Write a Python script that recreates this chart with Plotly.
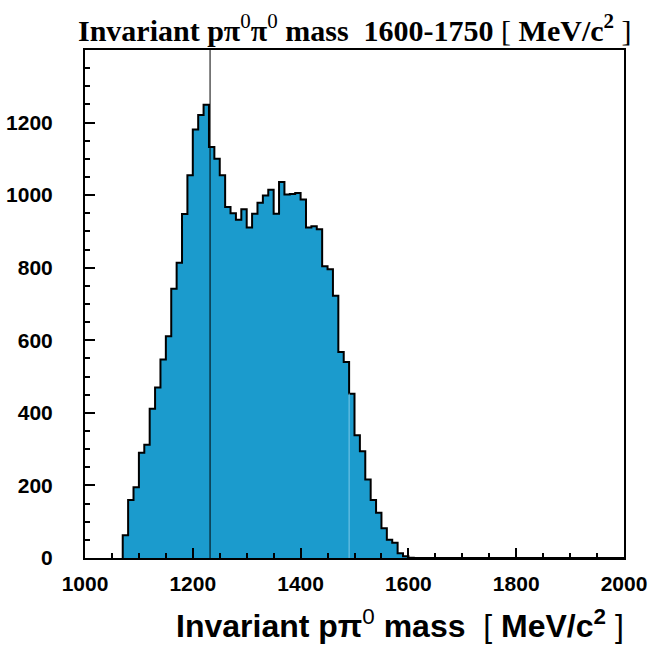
import plotly.graph_objects as go

# bin left edges (MeV/c^2), 10 MeV bins
bin_lo = list(range(1070, 1610, 10))
counts = [63, 160, 195, 290, 312, 411, 470, 547, 611, 742,
          814, 948, 1055, 1181, 1221, 1249, 1133, 1100, 1055, 967,
          950, 932, 961, 911, 949, 979, 999, 1015, 949, 1036,
          1002, 1003, 1006, 988, 911, 914, 906, 804, 796, 723,
          568, 540, 453, 338, 294, 216, 160, 125, 82, 50,
          42, 13, 5, 1]
bin_w = 10
delta_mass = 1232
light_edge = 1490
x_ticks = [1000, 1200, 1400, 1600, 1800, 2000]
y_ticks = [0, 200, 400, 600, 800, 1000, 1200]

fill_col = "#1b9bcd"

fig = go.Figure()
fig.add_trace(go.Bar(
    x=[b + bin_w / 2 for b in bin_lo], y=counts, width=bin_w,
    marker=dict(color=fill_col, line=dict(width=0)), hoverinfo="skip",
))
# outline
ox = [bin_lo[0]] + bin_lo + [bin_lo[-1] + bin_w, 2000]
oy = [0] + counts + [0, 0]
fig.add_trace(go.Scatter(x=ox, y=oy, mode="lines", line=dict(color="black", width=2, shape="hv"),
                         hoverinfo="skip"))

# light edge line
idx = bin_lo.index(light_edge)
fig.add_trace(go.Scatter(x=[light_edge, light_edge], y=[0, counts[idx]], mode="lines",
                         line=dict(color="#7cc8e8", width=1), hoverinfo="skip"))
# Delta line
fig.add_trace(go.Scatter(x=[delta_mass, delta_mass], y=[0, 1400], mode="lines",
                         line=dict(color="black", width=1), hoverinfo="skip"))

tickfont = dict(family="Liberation Sans", size=21, color="black")
fig.update_layout(
    width=651, height=648,
    margin=dict(l=85, r=27, t=50, b=90),
    paper_bgcolor="white", plot_bgcolor="white",
    showlegend=False, bargap=0,
    xaxis=dict(range=[1000, 2000], tickvals=x_ticks, ticktext=[f"<b>{v}</b>" for v in x_ticks],
               ticks="inside", ticklen=10, tickwidth=1.5, tickcolor="black",
               minor=dict(dtick=50, tick0=1000, ticks="inside", ticklen=5, tickwidth=1.5, tickcolor="black"),
               showline=True, linecolor="black", linewidth=2, mirror=True, automargin=False,
               showgrid=False, zeroline=False, tickfont=tickfont, ticklabelstandoff=6),
    yaxis=dict(range=[0, 1400], tickvals=y_ticks, ticktext=[f"<b>{v}</b>" for v in y_ticks],
               ticks="inside", ticklen=10, tickwidth=1.5, tickcolor="black",
               minor=dict(dtick=50, tick0=0, ticks="inside", ticklen=5, tickwidth=1.5, tickcolor="black"),
               showline=True, linecolor="black", linewidth=2, mirror=True, automargin=False,
               showgrid=False, zeroline=False, tickfont=tickfont, ticklabelstandoff=26),
)

nb = "\u00a0"
fig.add_annotation(
    xref="paper", yref="paper", x=0.5, y=1, yshift=1, xanchor="center", yanchor="bottom",
    showarrow=False,
    text=f"<b>Invariant pπ</b><sup>0</sup><b>π</b><sup>0</sup><b> mass{nb}{nb}1600-1750 </b>[ <b>MeV/c<sup>2</sup></b> ]",
    font=dict(family="Liberation Serif", size=30, color="black"),
)
fig.add_annotation(
    xref="paper", yref="paper", x=1, y=0, xshift=2, yshift=-88, xanchor="right", yanchor="bottom",
    showarrow=False,
    text=f"<b>Invariant pπ</b><sup>0</sup><b> mass</b>{nb}{nb}[ <b>MeV/c<sup>2</sup></b> ]",
    font=dict(family="Liberation Sans", size=32, color="black"),
)

fig.write_html("out.html")
